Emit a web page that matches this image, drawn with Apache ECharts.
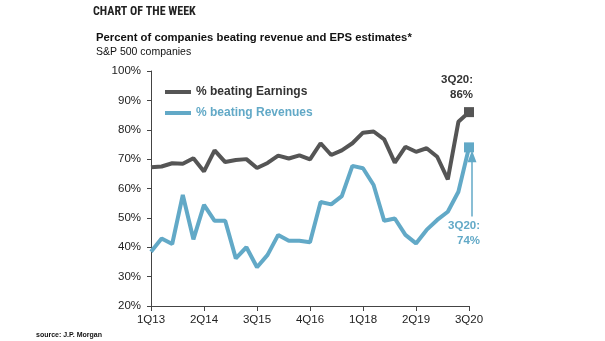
<!DOCTYPE html>
<html>
<head>
<meta charset="utf-8">
<script src="https://cdn.jsdelivr.net/npm/echarts@6/dist/echarts.min.js"></script>
<style>
html,body{margin:0;padding:0;background:#fff;}
#chart{width:605px;height:341px;}
</style>
</head>
<body>
<div id="chart"></div>
<script>
const categories = ['1Q13','2Q13','3Q13','4Q13','1Q14','2Q14','3Q14','4Q14','1Q15','2Q15','3Q15','4Q15','1Q16','2Q16','3Q16','4Q16','1Q17','2Q17','3Q17','4Q17','1Q18','2Q18','3Q18','4Q18','1Q19','2Q19','3Q19','4Q19','1Q20','2Q20','3Q20'];
const earnings = [67.2,67.5,68.6,68.4,70.3,65.8,73.0,69.0,69.7,70.0,67.0,68.7,71.2,70.2,71.3,69.9,75.4,71.4,73.0,75.4,79.0,79.4,76.7,68.8,74.2,72.5,73.7,70.8,63.1,82.7,86];
const revenues = [38.5,43.0,41.1,57.8,42.7,54.4,49.0,49.0,36.2,40.0,33.2,37.4,44.2,42.2,42.2,41.7,55.4,54.6,57.4,67.7,66.9,61.2,49.0,49.8,44.2,41.3,45.9,49.3,52.1,58.9,74];
const yTicks = [20,30,40,50,60,70,80,90,100];

const GRAY = '#555555';
const BLUE = '#62a9c7';
const last = categories.length - 1;

const chart = echarts.init(document.getElementById('chart'));
chart.setOption({
  animation: false,
  backgroundColor: '#fff',
  textStyle: {fontFamily: 'Liberation Sans, Arial, sans-serif'},
  title: [
    {text: 'CHART OF THE WEEK', left: 88, top: 1,
     textStyle: {fontFamily: 'Roboto Condensed, Liberation Sans Narrow, Arial Narrow, sans-serif', fontSize: 12, fontWeight: 'bold', color: '#222'}},
    {text: 'Percent of companies beating revenue and EPS estimates*', left: 91, top: 27,
     textStyle: {fontSize: 11.3, fontWeight: 'bold', color: '#111'}},
    {text: 'S&P 500 companies', left: 91, top: 42,
     textStyle: {fontSize: 10.5, fontWeight: 'normal', color: '#111'}},
    {text: 'source: J.P. Morgan', left: 31, top: 327,
     textStyle: {fontSize: 7, fontWeight: 'bold', color: '#111'}}
  ],
  legend: {
    orient: 'vertical', left: 160, top: 81, itemGap: 9,
    itemWidth: 26, itemHeight: 4, icon: 'rect',
    textStyle: {fontSize: 12, fontWeight: 'bold'},
    data: [
      {name: '% beating Earnings', textStyle: {color: '#333'}},
      {name: '% beating Revenues', textStyle: {color: BLUE}}
    ]
  },
  grid: {left: 151, right: 136, top: 71, bottom: 35},
  xAxis: {
    type: 'category', data: categories, boundaryGap: false,
    axisLine: {lineStyle: {color: '#444', width: 1}},
    axisTick: {interval: 4, length: 5, lineStyle: {color: '#444'}},
    axisLabel: {interval: 4, fontSize: 11.5, color: '#222', margin: 8}
  },
  yAxis: {
    type: 'value', min: 20, max: 100, interval: 10,
    axisLine: {show: true, lineStyle: {color: '#444', width: 1}},
    axisTick: {show: true, length: 4, lineStyle: {color: '#444'}},
    splitLine: {show: false},
    axisLabel: {fontSize: 11.5, color: '#222', margin: 10,
      formatter: v => yTicks.includes(v) ? v + '%' : ''}
  },
  series: [
    {
      name: '% beating Earnings', type: 'line', data: earnings,
      color: GRAY,
      lineStyle: {width: 4, color: GRAY},
      symbol: 'rect',
      symbolSize: (v, p) => p.dataIndex === last ? 10 : 0,
      itemStyle: {color: GRAY},
      label: {show: true, position: 'top', distance: 5,
        formatter: p => p.dataIndex === last ? categories[last] + ':\n' + Math.round(p.value) + '%' : '',
        fontSize: 11.5, fontWeight: 'bold', color: '#333', align: 'right', offset: [4, 0], lineHeight: 15}
    },
    {
      name: '% beating Revenues', type: 'line', data: revenues,
      color: BLUE,
      lineStyle: {width: 4, color: BLUE},
      symbol: 'rect',
      symbolSize: (v, p) => p.dataIndex === last ? 10 : 0,
      itemStyle: {color: BLUE},
      label: {show: true, position: 'bottom', distance: 66,
        formatter: p => p.dataIndex === last ? categories[last] + ':\n' + Math.round(p.value) + '%' : '',
        fontSize: 11.5, fontWeight: 'bold', color: BLUE, align: 'right', offset: [11, 0], lineHeight: 15},
      markLine: {
        silent: true, symbol: ['none', 'triangle'], symbolSize: [9, 12],
        lineStyle: {color: BLUE, width: 1.5, type: 'solid'},
        label: {show: false},
        data: [[{coord: [categories[last], 50.5], x: 472}, {coord: [categories[last], 71], x: 472}]]
      }
    }
  ]
});
</script>
</body>
</html>
